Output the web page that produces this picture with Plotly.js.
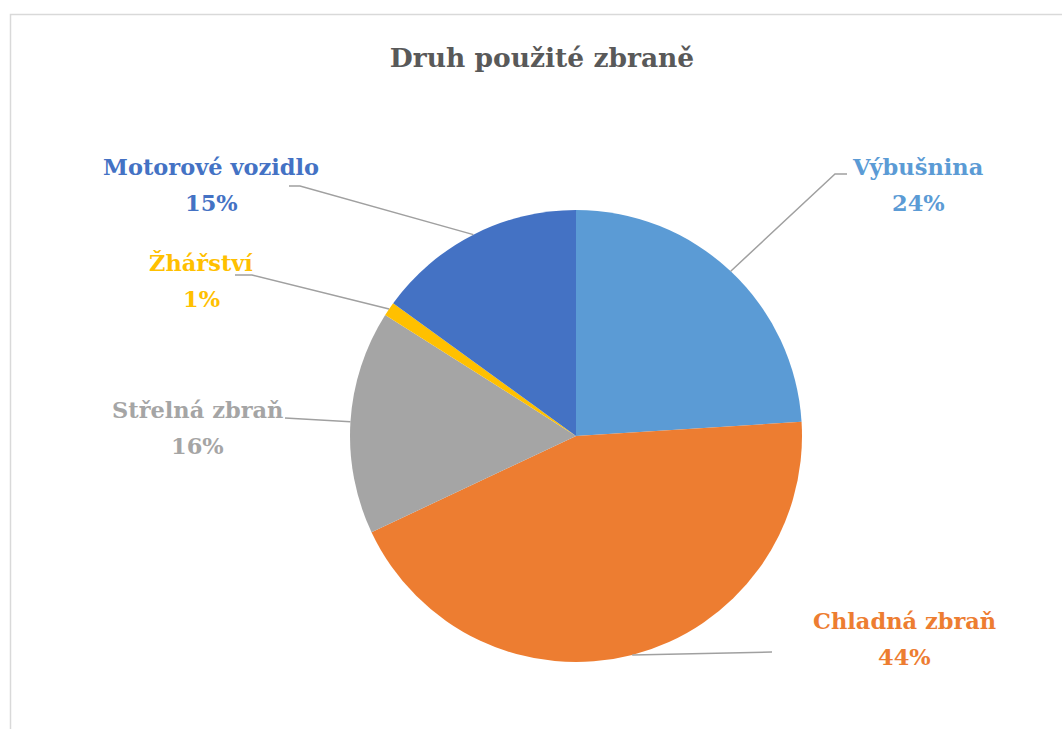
<!DOCTYPE html>
<html>
<head>
<meta charset="utf-8">
<script src="https://cdn.plot.ly/plotly-3.0.1.min.js"></script>
<style>html,body{margin:0;padding:0;background:#fff;}#chart{width:1062px;height:729px;}</style>
</head>
<body>
<div id="chart"></div>
<script>
// ---- data ----
const categories = ['Výbušnina', 'Chladná zbraň', 'Střelná zbraň', 'Žhářství', 'Motorové vozidlo'];
const values = [24, 44, 16, 1, 15];
const colors = ['#5B9BD5', '#ED7D31', '#A5A5A5', '#FFC000', '#4472C4'];
const titleText = 'Druh použité zbraně';

// ---- layout (pixels) ----
const W = 1062, H = 729;
const CX = 576, CY = 436, R = 226;
// label centres (name line), pct line drawn below
const labelPos = [[918, 167], [904, 621], [197, 410], [201, 263], [211, 167]];
const lineGap = 36;
// leader line points from label side (elbow path), ending at slice edge
const leaderPts = [
  [[847, 174], [835, 174]],
  [[772, 652]],
  [[285, 418]],
  [[235, 275], [252, 275]],
  [[289, 186], [300, 186]]
];

const px = x => x / W;
const py = y => 1 - y / H;
const FONT = '"DejaVu Serif", "Liberation Serif", serif';

const total = values.reduce((a, b) => a + b, 0);
let cum = 0;
const shapes = [];
const annotations = [];
values.forEach((v, i) => {
  const mid = (cum + v / 2) / total * 2 * Math.PI;
  cum += v;
  const ex = CX + R * Math.sin(mid);
  const ey = CY - R * Math.cos(mid);
  const pts = leaderPts[i].concat([[ex, ey]]);
  let d = 'M ' + px(pts[0][0]) + ' ' + py(pts[0][1]);
  for (let k = 1; k < pts.length; k++) d += ' L ' + px(pts[k][0]) + ' ' + py(pts[k][1]);
  shapes.push({type: 'path', xref: 'paper', yref: 'paper', path: d,
    line: {color: '#A0A0A0', width: 1.5}});
  const pct = Math.round(v / total * 100) + '%';
  annotations.push({xref: 'paper', yref: 'paper', x: px(labelPos[i][0]), y: py(labelPos[i][1]),
    text: '<b>' + categories[i] + '</b>', showarrow: false, xanchor: 'center', yanchor: 'middle',
    font: {family: FONT, size: 22.5, color: colors[i]}});
  annotations.push({xref: 'paper', yref: 'paper', x: px(labelPos[i][0]), y: py(labelPos[i][1] + lineGap),
    text: '<b>' + pct + '</b>', showarrow: false, xanchor: 'center', yanchor: 'middle',
    font: {family: FONT, size: 22.5, color: colors[i]}});
});

// chart frame
shapes.push({type: 'rect', xref: 'paper', yref: 'paper', x0: px(10.5), x1: 1.05, y0: -0.05, y1: py(14.5),
  line: {color: '#D9D9D9', width: 1.5}, layer: 'below'});

const trace = {
  type: 'pie',
  labels: categories,
  values: values,
  sort: false,
  direction: 'clockwise',
  rotation: 0,
  textinfo: 'none',
  hoverinfo: 'label+percent',
  marker: {colors: colors, line: {color: '#FFFFFF', width: 0}},
  domain: {x: [px(CX - R), px(CX + R)], y: [py(CY + R), py(CY - R)]},
  showlegend: false
};

const layout = {
  width: W, height: H,
  margin: {l: 0, r: 0, t: 0, b: 0},
  paper_bgcolor: '#FFFFFF',
  title: {text: '<b>' + titleText + '</b>', x: px(542), y: py(58), xanchor: 'center', yanchor: 'middle',
    font: {family: FONT, size: 26.5, color: '#595959'}},
  shapes: shapes,
  annotations: annotations,
  showlegend: false
};

Plotly.newPlot('chart', [trace], layout, {displayModeBar: false, staticPlot: true});
</script>
</body>
</html>
